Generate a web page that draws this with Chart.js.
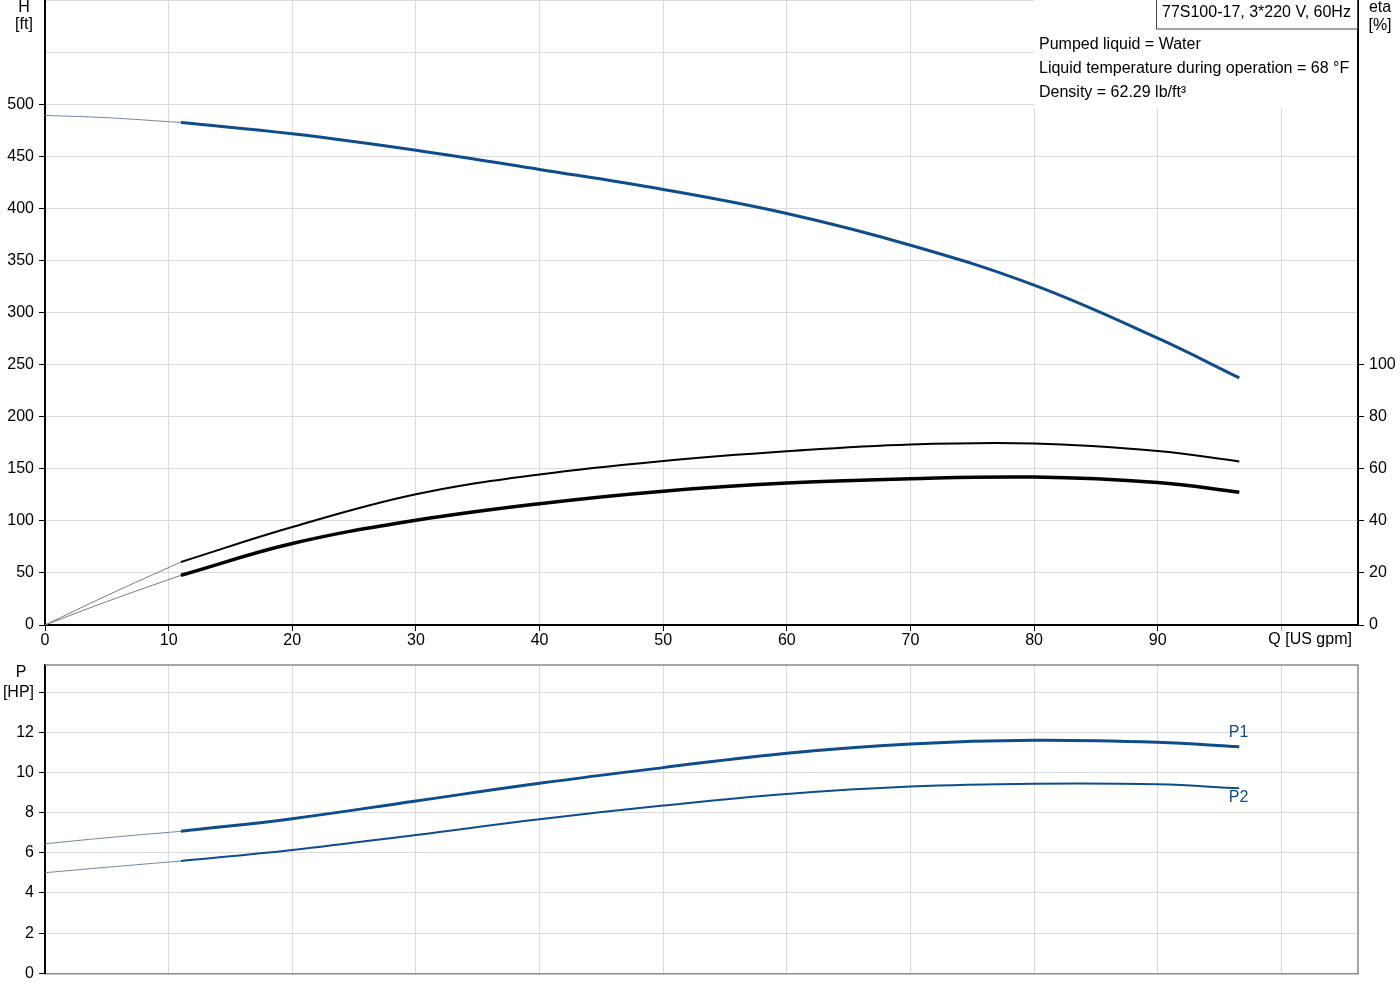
<!DOCTYPE html>
<html>
<head>
<meta charset="utf-8">
<script src="https://cdn.jsdelivr.net/npm/chart.js@4.4.1/dist/chart.umd.min.js"></script>
<style>
  body { margin: 0; background: #fff; }
  canvas { position: absolute; left: 0; }
  #top { top: 0; }
  #bottom { top: 655px; }
</style>
</head>
<body>
<canvas id="top" width="1400" height="660"></canvas>
<canvas id="bottom" width="1400" height="345"></canvas>
<script>
// flow [US gpm]; the thin part runs from 0 up to where the curve becomes valid
const flowExt = [0, 5, 11];
const flow = [11, 20, 30, 40, 50, 60, 70, 80, 90, 96.6];

// head H [ft]
const headExt = [489.2, 487, 482.4];
const head = [482.4, 471.5, 455.7, 437.3, 418.1, 395, 364.6, 326.2, 275.3, 237.2];

// efficiency eta [%]
const etaUpperExt = [0, 11.3, 24.2];
const etaUpper = [24.2, 37.6, 50.2, 57.8, 63, 66.7, 69.3, 69.7, 66.8, 62.8];
const etaLowerExt = [0, 9, 19.1];
const etaLower = [19.1, 31.3, 40.2, 46.6, 51.4, 54.5, 56.2, 56.8, 54.7, 51];

// power P [HP]
const p1Ext = [6.45, 6.75, 7.07];
const p1 = [7.07, 7.7, 8.58, 9.46, 10.24, 10.96, 11.42, 11.6, 11.5, 11.28];
const p2Ext = [5.01, 5.28, 5.59];
const p2 = [5.59, 6.14, 6.89, 7.67, 8.35, 8.93, 9.3, 9.44, 9.41, 9.21];

const flowTicks = [0, 10, 20, 30, 40, 50, 60, 70, 80, 90, 100];
const infoTitle = '77S100-17, 3*220 V, 60Hz';
const infoLines = ['Pumped liquid = Water', 'Liquid temperature during operation = 68 \u00B0F', 'Density = 62.29 lb/ft\u00B3'];

const BLUE = '#0f4c8a';
const BLUE_THIN = '#6f87a5';
const GRID = '#dadada';
const FONT = "'Liberation Sans', Arial, sans-serif";

Chart.defaults.font.family = FONT;
Chart.defaults.font.size = 16;
Chart.defaults.color = '#000';

function pts(xs, ys) {
    return xs.map((x, i) => ({ x: x, y: ys[i] }));
}

function line(data, color, width, axis) {
    return {
        data: data,
        borderColor: color,
        borderWidth: width,
        pointRadius: 0,
        fill: false,
        tension: 0.4,
        yAxisID: axis
    };
}

function noPadding(s) {
    s.paddingTop = 0;
    s.paddingBottom = 0;
    s.paddingLeft = 0;
    s.paddingRight = 0;
}

const topLabels = {
    id: 'topLabels',
    afterDraw(chart) {
        const ctx = chart.ctx;
        const area = chart.chartArea;
        const x = chart.scales.x;
        ctx.save();
        ctx.font = '16px ' + FONT;
        ctx.fillStyle = '#000';
        ctx.textAlign = 'center';
        ctx.textBaseline = 'middle';
        ctx.fillText('H', 24, 8);
        ctx.fillText('[ft]', 24, 25);
        ctx.fillText('eta', area.right + 22, 8);
        ctx.fillText('[%]', area.right + 22, 26);

        ctx.textAlign = 'left';
        ctx.fillText('Q [US gpm]', x.getPixelForValue(flowTicks[flowTicks.length - 1]) - 13, area.bottom + 15);

        // info block
        ctx.fillStyle = '#fff';
        ctx.fillRect(area.right - 324, 0, 323, 108);
        ctx.strokeStyle = '#444';
        ctx.lineWidth = 1;
        ctx.strokeRect(area.right - 201.5, -1, 201, 30);
        ctx.fillStyle = '#000';
        ctx.fillText(infoTitle, area.right - 196, 13);
        infoLines.forEach((t, i) => ctx.fillText(t, area.right - 319, 45 + i * 24));
        ctx.restore();
    }
};

new Chart(document.getElementById('top'), {
    type: 'line',
    data: {
        datasets: [
            line(pts(flowExt, headExt), BLUE_THIN, 1, 'h'),
            line(pts(flow, head), BLUE, 3, 'h'),
            line(pts(flowExt, etaUpperExt), '#7a7a7a', 1, 'eta'),
            line(pts(flow, etaUpper), '#000', 2, 'eta'),
            line(pts(flowExt, etaLowerExt), '#7a7a7a', 1, 'eta'),
            line(pts(flow, etaLower), '#000', 3.5, 'eta')
        ]
    },
    options: {
        responsive: false,
        animation: false,
        devicePixelRatio: 1,
        layout: { padding: 0 },
        plugins: { legend: { display: false }, tooltip: { enabled: false } },
        scales: {
            x: {
                type: 'linear',
                min: 0,
                max: 106.2,
                afterFit: s => { s.height = 35; noPadding(s); },
                ticks: {
                    stepSize: 10,
                    includeBounds: false,
                    maxRotation: 0,
                    padding: 0,
                    callback: v => v === 100 ? '' : String(v)
                },
                grid: { color: GRID, tickLength: 6, tickColor: c => c.tick && c.tick.value === 100 ? '#999' : '#000' },
                border: { color: '#000', width: 2 }
            },
            h: {
                position: 'left',
                min: 0,
                max: 600,
                afterFit: s => { s.width = 45; noPadding(s); },
                ticks: {
                    stepSize: 50,
                    includeBounds: false,
                    padding: 5,
                    callback: v => v > 500 ? [] : String(v)
                },
                grid: { color: GRID, tickLength: 6, tickColor: c => c.tick && c.tick.value > 500 ? 'rgba(0,0,0,0)' : '#000' },
                border: { color: '#000', width: 2 }
            },
            eta: {
                position: 'right',
                min: 0,
                max: 240,
                afterBuildTicks: s => { s.ticks = s.ticks.filter(t => t.value <= 100); },
                afterFit: s => { s.width = 42; noPadding(s); },
                ticks: { stepSize: 20, includeBounds: false, padding: 5 },
                grid: { drawOnChartArea: false, tickLength: 6, tickColor: '#000' },
                border: { color: '#000', width: 2 }
            }
        }
    },
    plugins: [topLabels]
});

const bottomLabels = {
    id: 'bottomLabels',
    afterDraw(chart) {
        const ctx = chart.ctx;
        const area = chart.chartArea;
        const x = chart.scales.x;
        const y = chart.scales.p;
        ctx.save();
        ctx.strokeStyle = '#8a8a8a';
        ctx.lineWidth = 1.5;
        ctx.beginPath();
        ctx.moveTo(area.left, area.top);
        ctx.lineTo(area.right, area.top);
        ctx.lineTo(area.right, area.bottom);
        ctx.stroke();

        ctx.font = '16px ' + FONT;
        ctx.textAlign = 'center';
        ctx.textBaseline = 'middle';
        ctx.fillStyle = '#000';
        ctx.fillText('P', 21, 18);

        const last = flow.length - 1;
        const ex = x.getPixelForValue(flow[last]);
        ctx.fillStyle = BLUE;
        ctx.textAlign = 'right';
        ctx.fillText('P1', ex + 9, y.getPixelForValue(p1[last]) - 14);
        ctx.fillText('P2', ex + 9, y.getPixelForValue(p2[last]) + 9);
        ctx.restore();
    }
};

new Chart(document.getElementById('bottom'), {
    type: 'line',
    data: {
        datasets: [
            line(pts(flowExt, p1Ext), BLUE_THIN, 1, 'p'),
            line(pts(flow, p1), BLUE, 3, 'p'),
            line(pts(flowExt, p2Ext), BLUE_THIN, 1, 'p'),
            line(pts(flow, p2), BLUE, 2, 'p')
        ]
    },
    options: {
        responsive: false,
        animation: false,
        devicePixelRatio: 1,
        layout: { padding: { top: 10, right: 42, left: 0, bottom: 0 } },
        plugins: { legend: { display: false }, tooltip: { enabled: false } },
        scales: {
            x: {
                type: 'linear',
                min: 0,
                max: 106.2,
                afterFit: s => { s.height = 26.7; noPadding(s); },
                ticks: { display: false, stepSize: 10, includeBounds: false },
                grid: { color: GRID, drawTicks: false },
                border: { color: '#8a8a8a', width: 1.5 }
            },
            p: {
                position: 'left',
                min: 0,
                max: 15.35,
                afterFit: s => { s.width = 45; noPadding(s); },
                ticks: {
                    stepSize: 2,
                    includeBounds: false,
                    padding: 5,
                    callback: v => v === 14 ? '[HP]' : String(v)
                },
                grid: { color: GRID, tickLength: 6, tickColor: '#000' },
                border: { color: '#000', width: 2 }
            }
        }
    },
    plugins: [bottomLabels]
});
</script>
</body>
</html>
